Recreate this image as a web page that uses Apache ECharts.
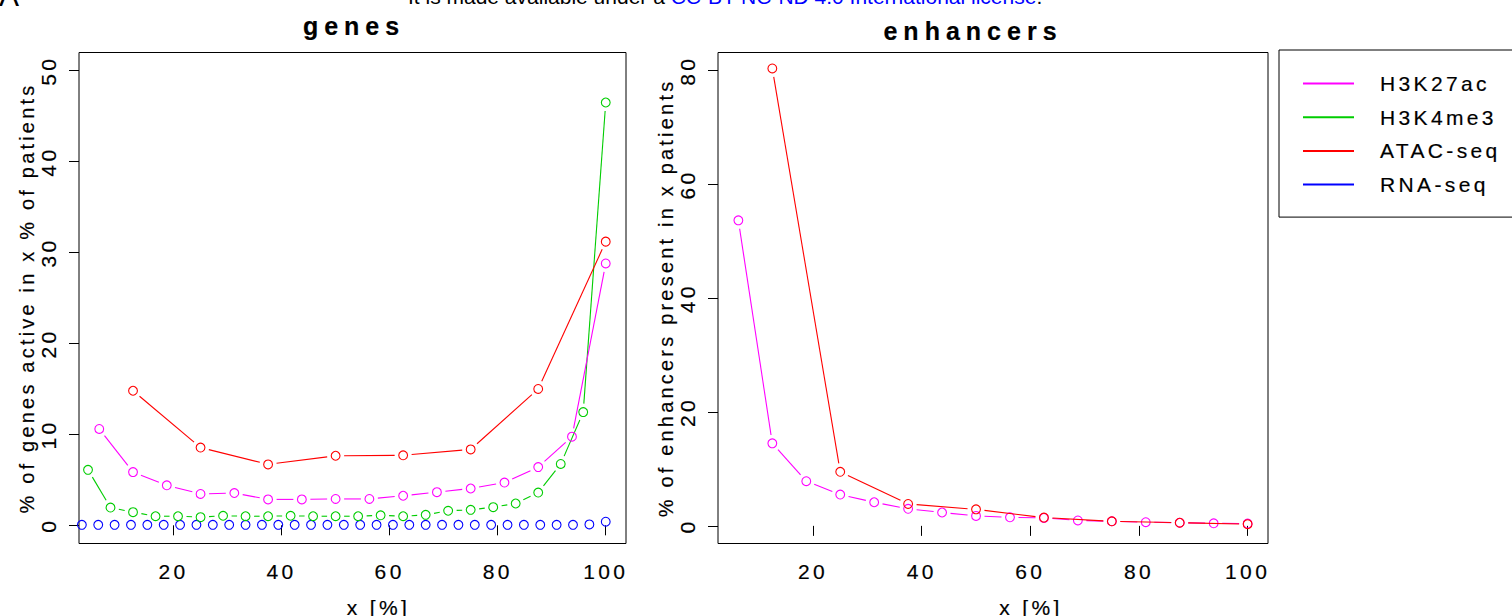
<!DOCTYPE html>
<html>
<head>
<meta charset="utf-8">
<script src="https://cdn.jsdelivr.net/npm/echarts@6/dist/echarts.min.js"></script>
<style>
  html, body { margin: 0; padding: 0; background: #fff; }
  #wrap { position: relative; width: 1512px; height: 616px; overflow: hidden; background: #fff; }
  #chart { position: absolute; left: 0; top: 0; width: 1512px; height: 616px; }
  /* R-style wide tracking and slightly heavy strokes of the PDF text */
  #chart text { letter-spacing: 0.16em; stroke: #000; stroke-width: 0.18px; }
  #chart text[style*="bold"], #chart text[font-weight="bold"] { letter-spacing: 0.24em; stroke-width: 0.2px; }
  .hdr { position: absolute; white-space: nowrap; font-family: 'Liberation Sans', Arial, sans-serif; color: #000; z-index: 2; }
  .hdr a { color: #0000ff; text-decoration: none; }
</style>
</head>
<body>
<div id="wrap">
  <div id="chart"></div>
  <div class="hdr" style="left:-1px; top:-19px; font-size:30px; line-height:30px;">A</div>
  <div class="hdr" style="left:408px; top:-14px; font-size:21px; line-height:21px;">It is made available under a <a>CC-BY-NC-ND 4.0 International license</a>.</div>
</div>
<script>
// ---- x positions (% of patients) for each assay's cohort size ----
const xRna = [3.03, 6.06, 9.09, 12.12, 15.15, 18.18, 21.21, 24.24, 27.27, 30.3, 33.33,
              36.36, 39.39, 42.42, 45.45, 48.48, 51.52, 54.55, 57.58, 60.61, 63.64, 66.67,
              69.7, 72.73, 75.76, 78.79, 81.82, 84.85, 87.88, 90.91, 93.94, 96.97, 100];
const xK4 = [4.17, 8.33, 12.5, 16.67, 20.83, 25, 29.17, 33.33, 37.5, 41.67, 45.83, 50,
             54.17, 58.33, 62.5, 66.67, 70.83, 75, 79.17, 83.33, 87.5, 91.67, 95.83, 100];
const xK27 = [6.25, 12.5, 18.75, 25, 31.25, 37.5, 43.75, 50, 56.25, 62.5, 68.75, 75,
              81.25, 87.5, 93.75, 100];
const xAtac = [12.5, 25, 37.5, 50, 62.5, 75, 87.5, 100];

// ---- genes: % of genes active in x % of patients ----
const genesK27 = [10.6, 5.85, 4.4, 3.45, 3.55, 2.85, 2.85, 2.9, 2.9, 3.25, 3.65, 4.05,
                  4.7, 6.4, 9.75, 28.8];
const genesK4 = [6.1, 1.95, 1.45, 1.0, 1.0, 0.9, 1.05, 1.0, 1.0, 1.05, 1.0, 1.0,
                 1.0, 1.1, 1.0, 1.15, 1.6, 1.7, 2.0, 2.4, 3.6, 6.75, 12.45, 46.5];
const genesAtac = [14.8, 8.55, 6.7, 7.65, 7.7, 8.35, 15.0, 31.2];
const genesRna = [0.05, 0.05, 0.05, 0.05, 0.05, 0.05, 0.05, 0.05, 0.05, 0.05, 0.05,
                  0.05, 0.05, 0.05, 0.05, 0.05, 0.05, 0.05, 0.05, 0.05, 0.05, 0.05,
                  0.05, 0.05, 0.05, 0.05, 0.05, 0.05, 0.05, 0.05, 0.05, 0.1, 0.4];

// ---- enhancers: % of enhancers present in x patients ----
const enhK27 = [53.7, 14.5, 7.85, 5.5, 4.15, 3.0, 2.35, 1.75, 1.5, 1.4, 0.95, 0.8,
                0.65, 0.55, 0.45, 0.4];
const enhAtac = [80.4, 9.5, 3.85, 2.9, 1.45, 0.8, 0.55, 0.3];

// ---- axis ticks ----
const xTicks = [20, 40, 60, 80, 100];
const yTicksGenes = [0, 10, 20, 30, 40, 50];
const yTicksEnh = [0, 20, 40, 60, 80];

const legendNames = ['H3K27ac', 'H3K4me3', 'ATAC-seq', 'RNA-seq'];
const colors = { 'H3K27ac': '#ff00ff', 'H3K4me3': '#00cd00', 'ATAC-seq': '#ff0000', 'RNA-seq': '#0000ff' };

const FONT = "'Liberation Sans', Arial, Helvetica, sans-serif";
const GAP = 8.5;   // blank space left around each point, as in type = "b"
const RAD = 4.4;   // open circle radius

// points joined by segments that stop short of each circle
function pointsAndLines(name, xs, ys, idx) {
  const color = colors[name];
  return {
    type: 'custom',
    name: name,
    xAxisIndex: idx,
    yAxisIndex: idx,
    itemStyle: { color: color },
    data: xs.map((x, i) => [x, ys[i]]),
    renderItem: function (params, api) {
      const i = params.dataIndexInside;
      const p = api.coord([api.value(0), api.value(1)]);
      const children = [{
        type: 'circle',
        shape: { cx: p[0], cy: p[1], r: RAD },
        style: { fill: 'none', stroke: color, lineWidth: 1.1 }
      }];
      if (i + 1 < params.dataInsideLength) {
        const q = api.coord([api.value(0, i + 1), api.value(1, i + 1)]);
        const dx = q[0] - p[0], dy = q[1] - p[1];
        const len = Math.hypot(dx, dy);
        if (len > 2 * GAP) {
          const ux = dx / len, uy = dy / len;
          children.push({
            type: 'line',
            shape: { x1: p[0] + ux * GAP, y1: p[1] + uy * GAP, x2: q[0] - ux * GAP, y2: q[1] - uy * GAP },
            style: { stroke: color, lineWidth: 1.1 }
          });
        }
      }
      return { type: 'group', children: children };
    }
  };
}

function xAxisFor(idx, namePad) {
  return {
    type: 'value', gridIndex: idx, min: 2.5, max: 103.75,
    axisLine: { show: false },
    axisTick: { show: true, length: 10, customValues: xTicks, lineStyle: { color: '#000', width: 1 } },
    axisLabel: { customValues: xTicks, color: '#000', fontSize: 21, fontFamily: FONT, margin: 17 },
    splitLine: { show: false },
    name: 'x [%]', nameLocation: 'middle', nameGap: 53,
    nameTextStyle: { color: '#000', fontSize: 21, fontFamily: FONT, padding: [0, 0, 0, namePad] }
  };
}

function yAxisFor(idx, min, max, ticks, title) {
  return {
    type: 'value', gridIndex: idx, min: min, max: max,
    axisLine: { show: false },
    axisTick: { show: true, length: 10, customValues: ticks, lineStyle: { color: '#000', width: 1 } },
    axisLabel: { customValues: ticks, rotate: 90, color: '#000', fontSize: 21, fontFamily: FONT, margin: 20 },
    splitLine: { show: false },
    name: title, nameLocation: 'middle', nameGap: 42,
    nameTextStyle: { color: '#000', fontSize: 20, fontFamily: FONT }
  };
}

const chart = echarts.init(document.getElementById('chart'), null, { renderer: 'svg', width: 1512, height: 616 });

chart.setOption({
  backgroundColor: '#fff',
  animation: false,
  title: [
    { text: 'genes', left: 349, top: 8, textAlign: 'center',
      textStyle: { fontSize: 25, fontWeight: 'bold', fontFamily: FONT, color: '#000' } },
    { text: 'enhancers', left: 968, top: 13, textAlign: 'center',
      textStyle: { fontSize: 25, fontWeight: 'bold', fontFamily: FONT, color: '#000' } }
  ],
  legend: {
    data: legendNames.map(n => ({ name: n, icon: 'rect' })),
    orient: 'vertical',
    left: 1279, top: 50,
    padding: [23, 60, 22, 24],
    itemGap: 12.7,
    itemWidth: 51, itemHeight: 2,
    borderColor: '#000', borderWidth: 1,
    selectedMode: false,
    textStyle: { color: '#000', fontSize: 21, fontFamily: FONT, lineHeight: 21, padding: [0, 0, 0, 21] }
  },
  grid: [
    { left: 79, top: 52.5, width: 547, height: 491, show: true, borderColor: '#000', borderWidth: 1,
      backgroundColor: 'transparent', containLabel: false, outerBoundsMode: 'none' },
    { left: 718, top: 52.5, width: 550, height: 491, show: true, borderColor: '#000', borderWidth: 1,
      backgroundColor: 'transparent', containLabel: false, outerBoundsMode: 'none' }
  ],
  xAxis: [xAxisFor(0, 52), xAxisFor(1, 76)],
  yAxis: [
    yAxisFor(0, -2, 52, yTicksGenes, '% of genes active in x % of patients'),
    yAxisFor(1, -3.1, 83.2, yTicksEnh, '% of enhancers present in x patients')
  ],
  series: [
    pointsAndLines('RNA-seq', xRna, genesRna, 0),
    pointsAndLines('H3K4me3', xK4, genesK4, 0),
    pointsAndLines('H3K27ac', xK27, genesK27, 0),
    pointsAndLines('ATAC-seq', xAtac, genesAtac, 0),
    pointsAndLines('H3K27ac', xK27, enhK27, 1),
    pointsAndLines('ATAC-seq', xAtac, enhAtac, 1)
  ]
});
</script>
</body>
</html>
